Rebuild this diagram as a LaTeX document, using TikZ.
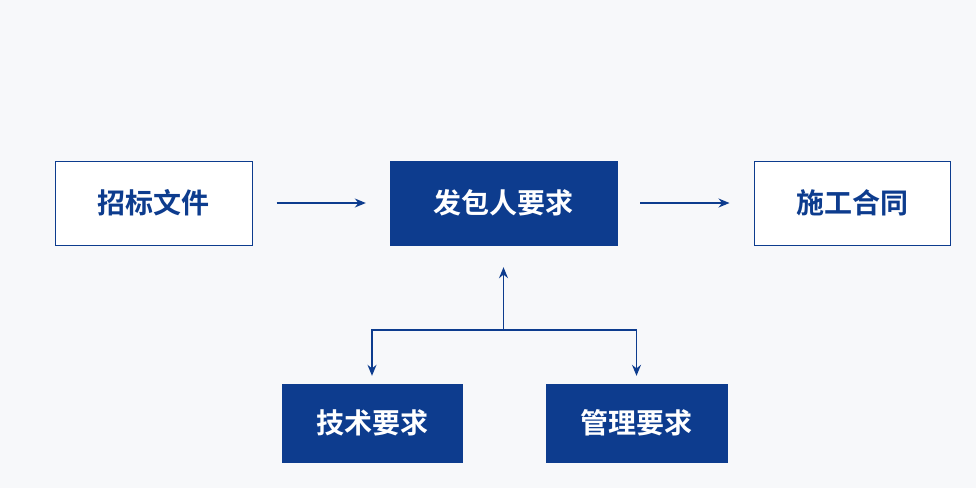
\documentclass[tikz,border=0pt]{standalone}
\usepackage{fontspec}
\newfontfamily\cjk{Noto Sans CJK SC Bold}
\usetikzlibrary{arrows.meta,positioning,calc}
\definecolor{darkBlue}{HTML}{0D3C8E}
\definecolor{paper}{HTML}{F7F8FA}
\begin{document}
\begin{tikzpicture}[x=1pt,y=-1pt]
	%defines
	\tikzstyle{plainBox} = [rectangle, minimum height=84pt, text centered, draw=darkBlue, line width=1pt, fill=white, text=darkBlue, font=\cjk\fontsize{28}{32}\selectfont]
	\tikzstyle{blueBox} = [rectangle, minimum height=84pt, text centered, draw=darkBlue, fill=darkBlue, text=white, font=\cjk\fontsize{28}{32}\selectfont]
	\tikzstyle{arrow} = [darkBlue, line width=1.3pt, -{Stealth[length=11pt,width=9pt]}]
	\fill[paper] (0,0) rectangle (976,488);
	\useasboundingbox (0,0) rectangle (976,488);
	%chart
	\node (tender) [plainBox, minimum width=197pt] at (153.5,203) {招标文件};
	\node (employer) [blueBox, minimum width=227pt] at (503.5,203) {发包人要求};
	\node (contract) [plainBox, minimum width=196pt] at (852,203) {施工合同};
	\node (tech) [blueBox, minimum width=180pt, minimum height=78pt] at (372,423) {技术要求};
	\node (manage) [blueBox, minimum width=181pt, minimum height=78pt] at (636.5,423) {管理要求};
	\coordinate (split) at (503.5,330);
	\draw [arrow] ($(tender.east)+(24,0)$) -- ($(employer.west)-(24,0)$);
	\draw [arrow] ($(employer.east)+(23,0)$) -- ($(contract.west)-(24,0)$);
	\draw [arrow] (split) -- ($(employer.south)+(0,22)$);
	\draw [arrow] (split) -| ($(tech.north)-(0,8)$);
	\draw [arrow] (split) -| ($(manage.north)-(0,8)$);
\end{tikzpicture}
\end{document}
